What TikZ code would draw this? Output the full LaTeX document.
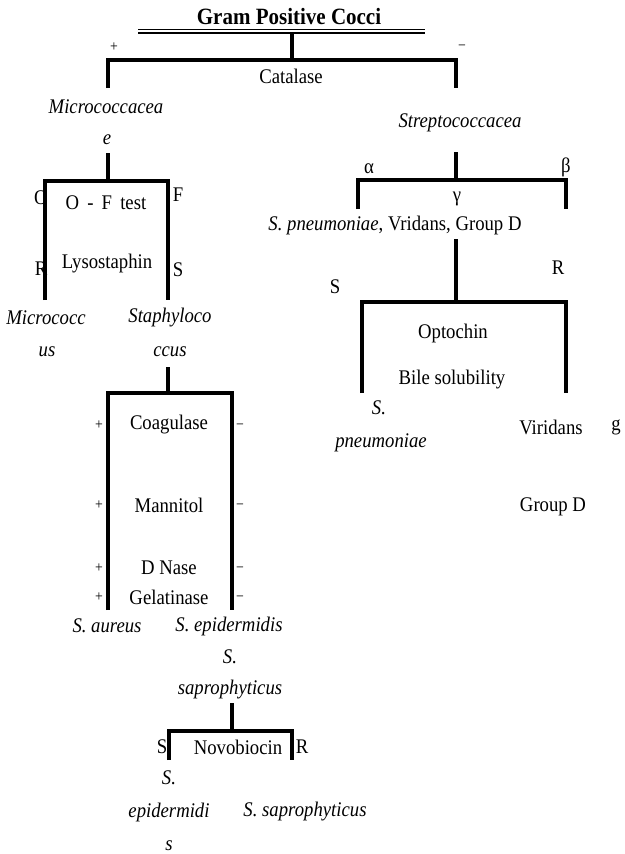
\documentclass[tikz,border=0pt]{standalone}
\usepackage{fontspec}
\setmainfont{Liberation Serif}[FakeStretch=0.9]
\begin{document}
\begin{tikzpicture}[x=0.75pt,y=-0.75pt,
  txt/.style={inner sep=0pt,font=\fontsize{15.6pt}{18pt}\selectfont},
  itx/.style={txt,font=\fontsize{15.6pt}{18pt}\selectfont\itshape},
  sgn/.style={inner sep=0pt,font=\fontsize{11.5pt}{13pt}\selectfont},
  branch/.style={line width=2.3pt},
  dbl/.style={line width=0.9pt}]
\useasboundingbox (0,0) rectangle (625,854);
% ---------- labels (drawn first, lines go over them)
\node[inner sep=0pt,font=\fontsize{17.5pt}{20pt}\selectfont\bfseries] (title) at (289,17) {Gram Positive Cocci};
\node[sgn] (cplus) at (114,47) {+};
\node[sgn] (cminus) at (462,48) {−};
\node[txt] (catalase) at (291,76) {Catalase};
\node[itx] (micfam) at (106,107) {Micrococcacea};
\node[itx] (micfame) at (107,140) {e};
\node[itx] (strfam) at (460,123) {Streptococcacea};
% O-F / lysostaphin
\node[txt] (oO) at (41,198) {O};
\node[txt] (ofF) at (178,195) {F};
\node[txt] (oftest) at (106,203) {O \,-\, F\, test};
\node[txt] (lR) at (41,269) {R};
\node[txt] (lS) at (178,270) {S};
\node[txt] (lyso) at (107,264) {Lysostaphin};
\node[itx] (micro1) at (46,318) {Micrococc};
\node[itx] (micro2) at (47,352) {us};
\node[itx] (staph1) at (170,318) {Staphyloco};
\node[itx] (staph2) at (170,352) {ccus};
% staph tests
\foreach \yy/\nm/\tt in {425/coag/Coagulase,505/mann/Mannitol,568/dnase/D Nase,597/gel/Gelatinase}{
  \node[sgn] (\nm p) at (99,\yy) {+};
  \node[txt] (\nm) at (169,\yy) {\tt};
  \node[sgn] (\nm m) at (240,\yy+2) {−};
}
\node[itx] (saur) at (107,626) {S.\ aureus};
\node[itx] (sepi) at (229,626) {S.\ epidermidis};
\node[itx] (ssap1) at (230,657) {S.};
\node[itx] (ssap2) at (230,690) {saprophyticus};
\node[txt] (nS) at (162,747) {S};
\node[txt] (novo) at (238,747) {Novobiocin};
\node[txt] (nR) at (302,747) {R};
\node[itx] (sepi1) at (169,778) {S.};
\node[itx] (sepi2) at (169,812) {epidermidi};
\node[itx] (sepi3) at (169,846) {s};
\node[itx] (ssapR) at (305,812) {S.\ saprophyticus};
% strepto side
\node[txt] (alpha) at (369,169) {α};
\node[txt] (beta) at (566,167) {β};
\node[txt] (gamma) at (457,199) {γ};
\node[txt] (alphagrp) at (395,225) {\textit{S.\ pneumoniae}, Vridans, Group D};
\node[txt] (oS) at (335,287) {S};
\node[txt] (oR) at (558,268) {R};
\node[txt] (opto) at (453,333) {Optochin};
\node[txt] (bile) at (452,380) {Bile solubility};
\node[itx] (spn1) at (379,408) {S.};
\node[itx] (spn2) at (381,443) {pneumoniae};
\node[txt] (virid) at (551,427) {Viridans};
\node[txt] (gg) at (616,427) {g};
\node[txt] (grpd) at (553,507) {Group D};
% ---------- connector coordinates
\coordinate (t1) at (292,33); \coordinate (t2) at (292,60);
\coordinate (tl) at (108,60); \coordinate (tr) at (456,60);
\coordinate (tld) at (108,88); \coordinate (trd) at (456,88);
\coordinate (m1) at (108,153); \coordinate (m2) at (108,181);
\coordinate (ml) at (45,181); \coordinate (mr) at (168,181);
\coordinate (mld) at (45,300); \coordinate (mrd) at (168,300);
\coordinate (s1) at (168,367); \coordinate (s2) at (168,393);
\coordinate (sl) at (108,393); \coordinate (sr) at (232,393);
\coordinate (sld) at (108,610); \coordinate (srd) at (232,610);
\coordinate (n1) at (232,703); \coordinate (n2) at (232,731);
\coordinate (nl) at (169,731); \coordinate (nr) at (292,731);
\coordinate (nld) at (169,760); \coordinate (nrd) at (292,760);
\coordinate (r1) at (456,152); \coordinate (r2) at (456,180);
\coordinate (rl) at (358,180); \coordinate (rr) at (566,180);
\coordinate (rld) at (358,209); \coordinate (rrd) at (566,209);
\coordinate (p1) at (456,239); \coordinate (p2) at (456,302);
\coordinate (pl) at (362,302); \coordinate (pr) at (566,302);
\coordinate (pld) at (362,393); \coordinate (prd) at (566,393);
% ---------- lines
\draw[dbl] (138,29.5) -- (425,29.5);
\draw[dbl] (138,33) -- (425,33);
\draw[branch] (t1) -- (t2);
\draw[branch] (tld) -- (tl) -- (tr) -- (trd);
\draw[branch] (m1) -- (m2);
\draw[branch] (mld) -- (ml) -- (mr) -- (mrd);
\draw[branch] (s1) -- (s2);
\draw[branch] (sld) -- (sl) -- (sr) -- (srd);
\draw[branch] (n1) -- (n2);
\draw[branch] (nld) -- (nl) -- (nr) -- (nrd);
\draw[branch] (r1) -- (r2);
\draw[branch] (rld) -- (rl) -- (rr) -- (rrd);
\draw[branch] (p1) -- (p2);
\draw[branch] (pld) -- (pl) -- (pr) -- (prd);
\end{tikzpicture}
\end{document}
